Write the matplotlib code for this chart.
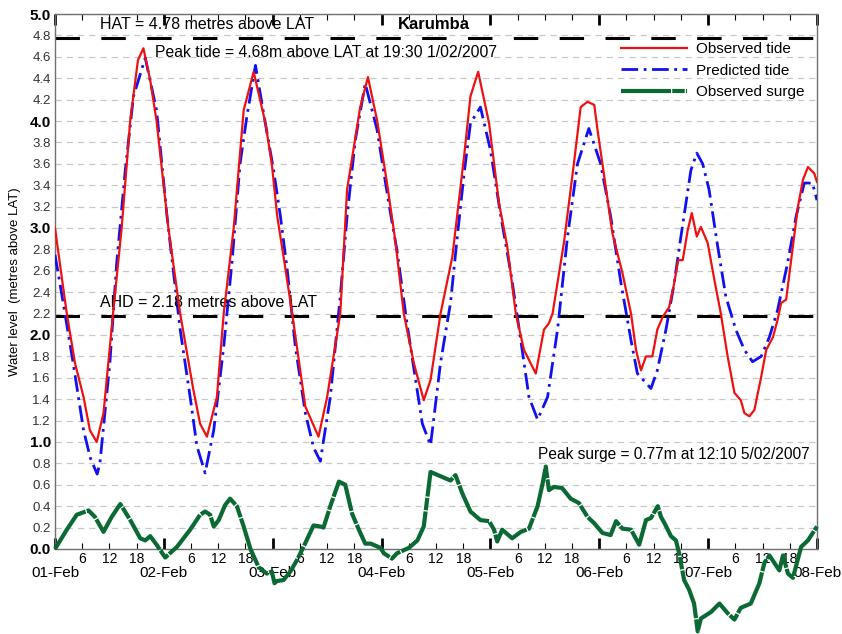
import matplotlib.pyplot as plt
import numpy as np

plt.rcParams['font.family'] = ['Liberation Sans', 'DejaVu Sans']

# Hours since 01-Feb 00:00 and water levels (m above LAT)
obs_h = [0, 2.6, 4.4, 6.3, 7.7, 9.2, 10.7, 12.8, 14.7, 16.6, 18.3, 19.5, 21.0, 22.4, 25.0,
         27.6, 30.5, 32.0, 33.5, 35.7, 37.2, 39.4, 41.6, 43.8, 46.4, 47.8, 49.0, 50.4, 52.3,
         55.2, 58.1, 60.0, 62.9, 64.4, 67.3, 69.0, 71.0, 73.2, 75.1, 76.9, 79.1, 81.3, 82.8,
         85.0, 87.6, 90.2, 91.6, 93.3, 95.7, 97.9, 99.7, 101.6, 103.4, 106.0, 107.8, 108.9,
         109.7, 112.2, 114.4, 115.9, 117.4, 118.9, 119.6, 121.1, 122.9, 125.1, 127.0, 128.1,
         129.2, 130.3, 131.7, 132.8, 134.0, 135.4, 136.5, 137.4, 138.4, 139.5, 140.4, 141.5,
         142.4, 143.9, 145.4, 146.8, 148.3, 149.8, 151.2, 152.0, 153.1, 154.2, 155.7, 156.8,
         158.3, 159.3, 160.1, 161.2, 162.3, 163.8, 164.9, 166.0, 167.4, 168.0]
obs_tide = [3.00, 2.20, 1.74, 1.42, 1.11, 1.00, 1.27, 2.20, 3.00, 4.01, 4.57, 4.68, 4.38, 4.00, 3.00,
            2.20, 1.49, 1.17, 1.05, 1.42, 2.20, 3.00, 4.10, 4.46, 3.98, 3.60, 3.11, 2.73, 2.20,
            1.33, 1.05, 1.42, 2.20, 3.36, 4.13, 4.41, 4.01, 3.42, 2.86, 2.20, 1.74, 1.39, 1.58,
            2.20, 2.73, 3.67, 4.23, 4.46, 3.98, 3.23, 2.83, 2.20, 1.86, 1.64, 2.05, 2.11,
            2.20, 2.86, 3.60, 4.13, 4.18, 4.15, 3.92, 3.48, 2.95, 2.58, 2.20, 1.86,
            1.67, 1.80, 1.80, 2.05, 2.17, 2.26, 2.48, 2.70, 2.70, 2.98, 3.14, 2.92,
            3.01, 2.86, 2.51, 2.20, 1.80, 1.46, 1.39, 1.27, 1.24, 1.30, 1.61, 1.86,
            1.98, 2.14, 2.30, 2.33, 2.70, 3.20, 3.45, 3.57, 3.51, 3.43]

pred_h = [0, 1.1, 4.0, 6.3, 7.8, 9.3, 9.9, 12.1, 13.6, 15.5, 17.3, 19.9, 22.4, 24.7, 27.6,
          29.8, 31.3, 33.1, 35.0, 37.2, 39.0, 40.8, 42.3, 44.2, 46.0, 48.2, 49.7, 51.2, 53.0,
          55.2, 57.0, 58.5, 60.7, 62.9, 64.4, 66.2, 68.4, 71.0, 73.6, 75.4, 77.6, 79.5, 81.0,
          82.8, 85.0, 87.2, 88.7, 90.2, 91.6, 93.8, 96.0, 98.3, 100.5, 102.7, 104.5, 106.4,
          108.6, 110.8, 113.0, 115.2, 117.7, 120.3, 122.5, 124.8, 127.0, 128.4, 131.4, 132.8,
          134.7, 136.5, 138.0, 139.1, 140.2, 141.5, 142.8, 144.2, 146.1, 147.9, 150.1, 152.0,
          153.8, 155.7, 157.5, 159.3, 161.5, 163.4, 165.2, 167.0, 168.0]
pred_tide = [2.75, 2.48, 1.74, 1.11, 0.85, 0.70, 0.80, 1.74, 2.67, 3.54, 4.23, 4.59, 4.10, 3.11, 2.05,
             1.42, 0.96, 0.71, 1.11, 1.89, 2.67, 3.60, 4.04, 4.52, 4.07, 3.54, 3.11, 2.61, 1.89,
             1.27, 0.95, 0.82, 1.42, 2.36, 3.11, 3.82, 4.35, 3.92, 3.23, 2.79, 2.11, 1.58, 1.17,
             0.97, 1.74, 2.30, 2.92, 3.51, 3.98, 4.13, 3.73, 3.11, 2.58, 1.95, 1.42, 1.21,
             1.42, 2.05, 2.92, 3.60, 3.93, 3.60, 3.11, 2.48, 1.95, 1.64, 1.50, 1.67,
             2.05, 2.48, 2.92, 3.23, 3.54, 3.70, 3.60, 3.36, 2.83, 2.36, 2.05, 1.86,
             1.75, 1.80, 1.98, 2.23, 2.67, 3.11, 3.42, 3.42, 3.26]

surge_h = [0, 2.6, 4.8, 7.4, 8.8, 10.7, 12.5, 14.4, 16.6, 18.8, 19.9, 21.0, 22.4, 24.3, 26.9,
           29.8, 32.0, 33.1, 34.2, 35.0, 36.1, 37.5, 38.6, 40.1, 41.6, 43.1, 44.9, 46.7, 47.8,
           48.4, 48.9, 50.4, 51.9, 53.4, 54.8, 57.0, 58.5, 59.2, 60.7, 62.6, 64.0, 65.5, 67.0,
           68.4, 69.6, 71.8, 72.5, 74.3, 75.4, 78.0, 79.9, 81.3, 82.8, 85.0, 87.2, 88.3, 89.8,
           91.6, 93.8, 95.7, 96.8, 97.5, 98.6, 100.8, 102.7, 104.5, 106.4, 107.5, 108.2, 108.9,
           110.0, 111.8, 113.7, 115.5, 117.4, 118.9, 120.7, 122.5, 123.7, 125.1, 127.0, 128.8,
           130.3, 131.4, 132.9, 133.6, 134.4, 135.8, 136.9, 137.6, 138.7, 139.8, 140.9, 141.7,
           142.4, 144.6, 146.5, 148.3, 149.8, 151.2, 153.4, 155.3, 156.4, 157.5, 158.6, 159.7,
           160.5, 161.6, 162.7, 164.5, 166.0, 168.0]
surge = [0.00, 0.18, 0.32, 0.36, 0.30, 0.16, 0.30, 0.42, 0.27, 0.10, 0.08, 0.12, 0.04, -0.08, 0.02,
         0.18, 0.32, 0.35, 0.32, 0.21, 0.27, 0.41, 0.47, 0.40, 0.21, 0.00, -0.17, -0.23, -0.21,
         -0.32, -0.30, -0.29, -0.21, -0.10, 0.02, 0.22, 0.21, 0.20, 0.40, 0.63, 0.60, 0.33, 0.18,
         0.05, 0.05, 0.01, -0.04, -0.09, -0.04, 0.01, 0.08, 0.21, 0.72, 0.68, 0.64, 0.69, 0.52,
         0.35, 0.27, 0.26, 0.18, 0.07, 0.18, 0.10, 0.16, 0.19, 0.40, 0.61, 0.77, 0.55,
         0.58, 0.57, 0.47, 0.43, 0.30, 0.24, 0.15, 0.13, 0.26, 0.19, 0.18, 0.04,
         0.27, 0.29, 0.40, 0.30, 0.24, 0.12, 0.08, -0.04, -0.29, -0.38, -0.51, -0.77,
         -0.65, -0.59, -0.51, -0.60, -0.66, -0.55, -0.51, -0.32, -0.13, -0.06, -0.13, -0.20,
         -0.06, -0.23, -0.27, 0.02, 0.08, 0.21]

hat = 4.78
ahd = 2.18
day_labels = ['01-Feb', '02-Feb', '03-Feb', '04-Feb', '05-Feb', '06-Feb', '07-Feb', '08-Feb']
hour_labels = ['6', '12', '18']

fig = plt.figure(figsize=(8.42, 6.34), dpi=100)
ax = fig.add_axes([0.0653, 0.1341, 0.905, 0.8438])

ax.plot(obs_h, obs_tide, color='#ee1111', lw=1.6, label='Observed tide', zorder=4)
ax.plot(pred_h, pred_tide, color='#1111ee', lw=2.0, ls=(0, (6, 2, 1, 2)),
        label='Predicted tide', zorder=3)
ax.plot(surge_h, surge, color='#0b6a33', lw=3.0, ls=(0, (12, 0.3, 3, 0.3)),
        label='Observed surge', clip_on=False, zorder=6)

ax.axhline(hat, color='black', lw=2.2, ls=(0, (8, 7)), zorder=2)
ax.axhline(ahd, color='black', lw=2.2, ls=(0, (8, 7)), zorder=2)

ax.text(9.9, 4.90, 'HAT = 4.78 metres above LAT', fontsize=11.5, va='center', ha='left')
ax.text(75.5, 4.90, 'Karumba', fontsize=12, fontweight='bold', va='center', ha='left')
ax.text(22.1, 4.64, 'Peak tide = 4.68m above LAT at 19:30 1/02/2007', fontsize=11.3,
        va='center', ha='left')
ax.text(9.9, 2.30, 'AHD = 2.18 metres above LAT', fontsize=11.5, va='center', ha='left')
ax.text(106.4, 0.88, 'Peak surge = 0.77m at 12:10 5/02/2007', fontsize=11.2,
        va='center', ha='left')

ax.set_xlim(0, 168)
ax.set_ylim(0, 5)

# y ticks: every 0.2, whole numbers bold
yt = np.round(np.arange(0, 5.01, 0.2), 1)
ax.set_yticks(yt)
ax.set_yticklabels(['%.1f' % v for v in yt])
for v, lab in zip(yt, ax.get_yticklabels()):
    if abs(v - round(v)) < 1e-6:
        lab.set_fontweight('bold')
        lab.set_fontsize(11)
    else:
        lab.set_fontsize(9.5)
        lab.set_color('#333333')
ax.yaxis.grid(True, color='#c8c8c8', ls=(0, (5, 4)), lw=0.9)
ax.set_axisbelow(True)

# x ticks: days major, 6-hourly minor
ax.set_xticks([24 * d for d in range(8)])
ax.set_xticklabels(day_labels, fontsize=11)
minor = [24 * d + h for d in range(7) for h in (6, 12, 18)]
ax.set_xticks(minor, minor=True)
ax.set_xticklabels(hour_labels * 7, minor=True, fontsize=10)
ax.tick_params(axis='x', which='major', direction='in', top=True, length=8, width=2,
               pad=12, colors='black')
ax.tick_params(axis='x', which='minor', direction='in', top=True, length=4, width=0.8,
               pad=2)
ax.tick_params(axis='y', direction='in', length=0, pad=3)

ax.set_ylabel('Water level  (metres above LAT)', fontsize=9.5, labelpad=6)

for s in ax.spines.values():
    s.set_color('#707070')
    s.set_linewidth(1.0)

ax.legend(loc='upper left', bbox_to_anchor=(0.733, 0.962), frameon=False, fontsize=11,
          handlelength=4.3, handletextpad=0.6, labelspacing=0.5, borderpad=0)

fig.savefig('out.png', dpi=100)
